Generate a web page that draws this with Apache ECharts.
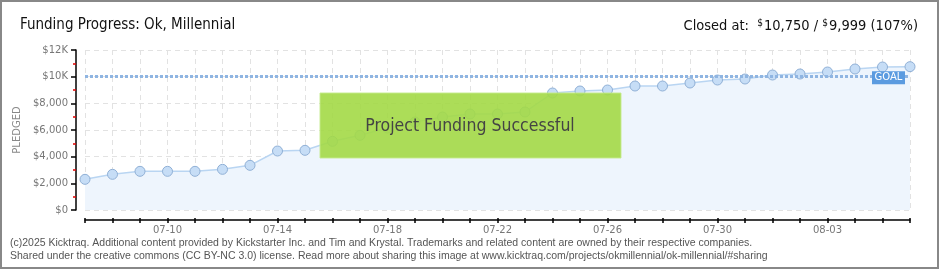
<!DOCTYPE html>
<html>
<head>
<meta charset="utf-8">
<script src="https://cdn.jsdelivr.net/npm/echarts@6/dist/echarts.min.js"></script>
<style>
html,body{margin:0;padding:0;background:#fff;}
#c{width:940px;height:270px;}
</style>
</head>
<body>
<div id="c"></div>
<script>
// ---- data ----
const dates = ['07-07','07-08','07-09','07-10','07-11','07-12','07-13','07-14','07-15','07-16',
  '07-17','07-18','07-19','07-20','07-21','07-22','07-23','07-24','07-25','07-26',
  '07-27','07-28','07-29','07-30','07-31','08-01','08-02','08-03','08-04','08-05','08-06'];
const pledged = [2300,2675,2900,2900,2900,3050,3350,4425,4475,5150,
  5600,6150,6600,6975,7200,7200,7350,8775,8925,9000,
  9300,9300,9525,9750,9825,10125,10200,10350,10575,10725,10750];
const goal = 9999;
const yTickLabels = ['$0','$2,000','$4,000','$6,000','$8,000','$10K','$12K'];
const titleText = 'Funding Progress: Ok, Millennial';
const bannerText = 'Project Funding Successful';
const footer1 = '(c)2025 Kicktraq. Additional content provided by Kickstarter Inc. and Tim and Krystal. Trademarks and related content are owned by their respective companies.';
const footer2 = 'Shared under the creative commons (CC BY-NC 3.0) license. Read more about sharing this image at www.kicktraq.com/projects/okmillennial/ok-millennial/#sharing';

const closed = pledged[pledged.length-1];
const pct = Math.floor(closed/goal*100);
const fmt = v => v.toLocaleString('en-US');

const chart = echarts.init(document.getElementById('c'), null, {renderer:'canvas'});
const gridCol = '#e2e2e2';
const narrow = '"Liberation Sans Narrow","DejaVu Sans Condensed",sans-serif';

chart.setOption({
  animation:false,
  backgroundColor:'#fff',
  title:[
    {text:titleText,left:15,top:13,textStyle:{fontSize:15,fontWeight:'normal',color:'#111',fontFamily:narrow}},
    {text:'{n|Closed at:  }{s|$}{n|'+fmt(closed)+' / }{s|$}{n|'+fmt(goal)+' ('+pct+'%)}',right:17,top:13,
     textStyle:{fontWeight:'normal',rich:{
       n:{fontSize:14.5,color:'#111',fontFamily:narrow,fontWeight:'normal'},
       s:{fontSize:10,color:'#111',fontFamily:narrow,fontWeight:'normal',padding:[0,1,6,0]}
     }}}
  ],
  grid:{left:85,right:30,top:50,bottom:60},
  xAxis:[{
    type:'category',data:dates,boundaryGap:false,offset:10,
    axisLine:{show:true,onZero:false,lineStyle:{color:'#000',width:1.5}},
    axisTick:{show:true,interval:0,length:3,lineStyle:{color:'#000',width:1.5}},
    axisLabel:{interval:(i)=>((i-3)%4===0),color:'#777',fontSize:10,fontFamily:'"DejaVu Sans",sans-serif',margin:5},
    splitLine:{show:true,interval:0,lineStyle:{color:gridCol,type:[5,4]}}
  },{
    type:'category',data:dates,boundaryGap:false,offset:10,position:'bottom',
    axisLine:{show:false,onZero:false},
    axisTick:{show:true,inside:true,interval:0,length:2,lineStyle:{color:'#000',width:1.5}},
    axisLabel:{show:false},splitLine:{show:false}
  }],
  yAxis:{
    type:'value',min:0,max:12000,interval:2000,offset:9,
    name:'PLEDGED',nameLocation:'middle',nameGap:48,nameRotate:90,
    nameTextStyle:{color:'#888',fontSize:10,fontFamily:'"DejaVu Sans",sans-serif'},
    axisLine:{show:true,onZero:false,lineStyle:{color:'#000',width:1.5}},
    axisTick:{show:true,length:5,lineStyle:{color:'#000',width:1.5}},
    minorTick:{show:true,splitNumber:2,length:3,lineStyle:{color:'#e00000',width:1.5}},
    axisLabel:{formatter:(v)=>yTickLabels[Math.round(v/2000)],color:'#777',fontSize:10,fontFamily:'"DejaVu Sans",sans-serif',margin:8},
    splitLine:{show:true,lineStyle:{color:gridCol,type:[5,4]}}
  },
  series:[{
    type:'line',data:pledged,xAxisIndex:0,
    symbol:'circle',symbolSize:10,
    lineStyle:{color:'#b9d5f2',width:1.5},
    itemStyle:{color:'#c6ddf6',borderColor:'#90b0d6',borderWidth:1},
    areaStyle:{color:'#eef5fd',opacity:1},
    markLine:{silent:true,symbol:'none',label:{show:false},
      lineStyle:{color:'#8fb5e2',width:3,type:[3,2]},
      data:[{yAxis:goal}]},
    markPoint:{silent:true,
      data:[{coord:['08-05',goal],symbol:'rect',symbolSize:[33,13],symbolOffset:[6,1],
        itemStyle:{color:'#5b9be0'},
        label:{show:true,formatter:'GOAL',color:'#fff',fontSize:10,fontFamily:'"DejaVu Sans",sans-serif'}}]}
  }],
  graphic:[
    {type:'rect',z:100,shape:{x:320,y:93,width:301,height:65},
     style:{fill:'rgba(163,217,70,0.9)',stroke:'rgba(196,235,140,0.9)',lineWidth:1}},
    {type:'text',z:101,x:470,y:126,style:{text:bannerText,fill:'#444',fontSize:17.5,fontFamily:narrow,
      align:'center',verticalAlign:'middle',textShadowColor:'#fff',textShadowOffsetX:1,textShadowOffsetY:1,textShadowBlur:0}},
    {type:'text',x:10,y:238,style:{text:footer1,fill:'#555',fontSize:10.5,fontFamily:'"Liberation Sans",sans-serif'}},
    {type:'text',x:10,y:251,style:{text:footer2,fill:'#555',fontSize:10.5,fontFamily:'"Liberation Sans",sans-serif'}},
    {type:'rect',z:200,shape:{x:1,y:1,width:937,height:267},style:{fill:'none',stroke:'#888',lineWidth:2}}
  ]
});
</script>
</body>
</html>
